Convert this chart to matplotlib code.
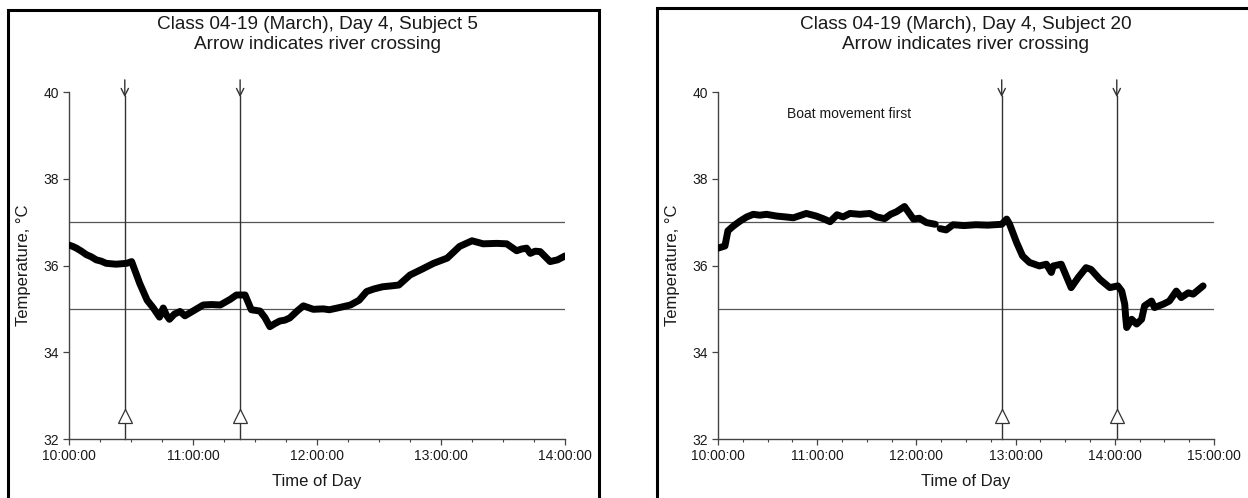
import matplotlib
matplotlib.use("Agg")
import matplotlib.pyplot as plt
from matplotlib.patches import Rectangle
from matplotlib.ticker import FixedLocator, MultipleLocator
import numpy as np

plt.rcParams['font.family'] = ['Liberation Sans', 'DejaVu Sans']

# ---------------- data ----------------
title_left = "Class 04-19 (March), Day 4, Subject 5\nArrow indicates river crossing"
title_right = "Class 04-19 (March), Day 4, Subject 20\nArrow indicates river crossing"
ylabel = "Temperature, °C"
xlabel = "Time of Day"
note_right = "Boat movement first"

# times in hours of day
left_time = [10.00, 10.03, 10.06, 10.10, 10.14, 10.18, 10.22, 10.26, 10.30, 10.38, 10.465, 10.505,
             10.57, 10.63, 10.68, 10.73, 10.76, 10.785, 10.81, 10.85, 10.895, 10.935, 11.00, 11.083,
             11.15, 11.22, 11.30, 11.35, 11.42, 11.47, 11.54, 11.58, 11.62, 11.66, 11.70, 11.74,
             11.78, 11.84, 11.89, 11.97, 12.05, 12.10, 12.18, 12.27, 12.34, 12.40, 12.46, 12.53,
             12.60, 12.66, 12.75, 12.85, 12.94, 13.05, 13.15, 13.25, 13.34, 13.45, 13.53, 13.61,
             13.65, 13.69, 13.72, 13.76, 13.80, 13.88, 13.94, 14.00]
left_temp = [36.47, 36.44, 36.40, 36.33, 36.25, 36.20, 36.13, 36.10, 36.05, 36.03, 36.05, 36.09,
             35.59, 35.20, 35.02, 34.81, 35.02, 34.86, 34.76, 34.88, 34.94, 34.84, 34.95, 35.09,
             35.10, 35.09, 35.22, 35.32, 35.32, 34.98, 34.95, 34.80, 34.59, 34.66, 34.72, 34.74,
             34.79, 34.95, 35.07, 34.99, 35.00, 34.98, 35.03, 35.09, 35.20, 35.40, 35.46, 35.51,
             35.53, 35.55, 35.78, 35.92, 36.05, 36.17, 36.44, 36.57, 36.50, 36.51, 36.50, 36.34,
             36.38, 36.40, 36.28, 36.33, 36.32, 36.09, 36.13, 36.22]
left_crossings = [10.45, 11.38]

right_time = [10.00, 10.07, 10.10, 10.155, 10.22, 10.29, 10.355, 10.42, 10.49, 10.59, 10.68, 10.76,
              10.89, 10.99, 11.06, 11.13, 11.20, 11.26, 11.33, 11.43, 11.53, 11.60, 11.68, 11.74,
              11.80, 11.88, 11.97, 12.03, 12.10, 12.19, np.nan, 12.24, 12.30, 12.37, 12.48, 12.60,
              12.72, 12.86, 12.91, 12.94, 13.01, 13.07, 13.14, 13.24, 13.31, 13.36, 13.38, 13.46,
              13.56, 13.63, 13.71, 13.76, 13.85, 13.95, 14.03, 14.07, 14.10, 14.11, 14.12, 14.17,
              14.22, 14.27, 14.30, 14.37, 14.40, 14.49, 14.55, 14.62, 14.67, 14.74, 14.79, 14.89]
right_temp = [36.40, 36.45, 36.80, 36.91, 37.02, 37.12, 37.18, 37.16, 37.18, 37.14, 37.12, 37.10,
              37.20, 37.14, 37.08, 37.01, 37.17, 37.12, 37.20, 37.18, 37.20, 37.12, 37.08, 37.18,
              37.24, 37.36, 37.07, 37.09, 36.99, 36.95, np.nan, 36.85, 36.82, 36.94, 36.92, 36.94,
              36.93, 36.95, 37.07, 36.95, 36.53, 36.22, 36.07, 35.99, 36.03, 35.84, 35.99, 36.03,
              35.49, 35.72, 35.95, 35.91, 35.68, 35.49, 35.53, 35.41, 35.11, 34.80, 34.57, 34.76,
              34.65, 34.76, 35.07, 35.18, 35.03, 35.11, 35.18, 35.41, 35.26, 35.37, 35.34, 35.53]
right_crossings = [12.86, 14.02]

ref_levels = [35, 37]
yticks = [32, 34, 36, 38, 40]
left_xticks = [10, 11, 12, 13, 14]
left_xlabels = ["10:00:00", "11:00:00", "12:00:00", "13:00:00", "14:00:00"]
right_xticks = [10, 11, 12, 13, 14, 15]
right_xlabels = ["10:00:00", "11:00:00", "12:00:00", "13:00:00", "14:00:00", "15:00:00"]

# ---------------- figure ----------------
fig = plt.figure(figsize=(12.48, 4.98), dpi=100)
W, H = 1248, 498

def fx(px):
    return px / W

def fy(py):
    return 1 - py / H

ax_l = fig.add_axes([fx(69), fy(439), fx(565) - fx(69), fy(92) - fy(439)])
ax_r = fig.add_axes([fx(718), fy(439), fx(1214) - fx(718), fy(92) - fy(439)])

txt_col = '#1a1a1a'
ax_col = '#444444'

def style(ax, xt, xl, xlim, title, times, temps, crossings):
    ax.set_xlim(*xlim)
    ax.set_ylim(32, 40)
    for s in ['top', 'right']:
        ax.spines[s].set_visible(False)
    for s in ['left', 'bottom']:
        ax.spines[s].set_color(ax_col)
        ax.spines[s].set_linewidth(1.0)
    ax.yaxis.set_major_locator(FixedLocator(yticks))
    ax.xaxis.set_major_locator(FixedLocator(xt))
    ax.set_xticklabels(xl)
    ax.xaxis.set_minor_locator(MultipleLocator(0.25))
    ax.tick_params(axis='both', which='major', direction='out', length=4, width=0.9,
                   color=ax_col, labelsize=10, labelcolor=txt_col, pad=3)
    ax.tick_params(axis='x', which='minor', direction='out', length=2.5, width=0.8, color=ax_col)
    ax.set_ylabel(ylabel, fontsize=12, color=txt_col, labelpad=9)
    ax.set_xlabel(xlabel, fontsize=12, color=txt_col, labelpad=8)
    ax.set_title(title, fontsize=13.7, color=txt_col, pad=31, linespacing=1.2)
    for lv in ref_levels:
        ax.axhline(lv, color='#555555', lw=0.9, zorder=1)
    for c in crossings:
        ax.plot([c, c], [32, 39.9], color='#333333', lw=1.0, zorder=1, clip_on=False)
        ax.annotate('', xy=(c, 39.88), xytext=(c, 40.28),
                    arrowprops=dict(arrowstyle='->', color='#333333', lw=1.0,
                                    shrinkA=0, shrinkB=0, mutation_scale=13),
                    annotation_clip=False)
        ax.plot([c], [32.52], marker='^', ms=10, mfc='white', mec='#333333', mew=0.9,
                zorder=3, clip_on=False)
    ax.plot(times, temps, color='black', lw=5, solid_capstyle='round',
            solid_joinstyle='round', zorder=4)

style(ax_l, left_xticks, left_xlabels, (10, 14), title_left, left_time, left_temp, left_crossings)
style(ax_r, right_xticks, right_xlabels, (10, 15), title_right, right_time, right_temp, right_crossings)
ax_r.text(10.70, 39.5, note_right, fontsize=10, color=txt_col, va='center', ha='left')

# panel borders
fig.patches.append(Rectangle((fx(8), fy(520)), fx(599) - fx(8), fy(10) - fy(520),
                             transform=fig.transFigure, fill=False, lw=2.2, ec='black'))
fig.patches.append(Rectangle((fx(657), fy(520)), fx(1260) - fx(657), fy(8) - fy(520),
                             transform=fig.transFigure, fill=False, lw=2.2, ec='black'))

fig.savefig('out.png', dpi=100, facecolor='white')
